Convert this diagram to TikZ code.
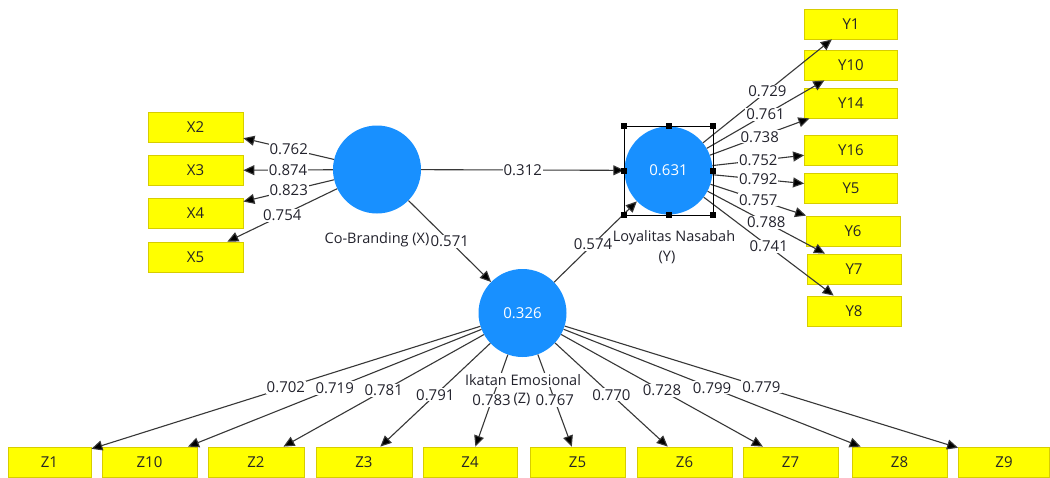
\documentclass[tikz,border=0pt]{standalone}
\usepackage{fontspec}
\setmainfont{Open Sans}
\usetikzlibrary{arrows.meta}
\definecolor{plsblue}{RGB}{24,144,255}
\definecolor{boxyellow}{RGB}{255,255,0}
\definecolor{boxedge}{RGB}{215,205,0}
\definecolor{linegray}{RGB}{55,55,55}
\definecolor{labelgray}{RGB}{35,35,45}
\begin{document}
\begin{tikzpicture}[x=1pt,y=-1pt,
  latent/.style={circle,fill=plsblue,minimum size=88pt,inner sep=0pt,text=white,font=\fontsize{15}{17}\selectfont},
  indicator/.style={rectangle,fill=boxyellow,draw=boxedge,line width=0.8pt,minimum height=30pt,inner sep=0pt,font=\fontsize{15}{17}\selectfont,text=black!85},
  loading/.style={fill=white,inner sep=1pt,text=labelgray,font=\fontsize{15}{17}\selectfont},
  link/.style={draw=linegray,line width=1.1pt,-{Triangle[length=11pt,width=10pt,fill=black]}},
  caption/.style={inner sep=1pt,text=labelgray,font=\fontsize{14.5}{17}\selectfont},
  handle/.style={rectangle,fill=black,minimum size=6pt,inner sep=0pt}
]
\useasboundingbox (0,0) rectangle (1050,477);
\fill[white] (0,0) rectangle (1050,477);

% latent variables
\node[latent] (X) at (377,169.5) {};
\node[latent] (Y) at (668.5,170.5) {0.631};
\node[latent] (Z) at (522.5,313) {0.326};

% captions (below circles)
\node[caption] (Xcap) at (377,240) {Co-Branding (X)};
\node[caption] (Ycap1) at (674,238) {Loyalitas Nasabah};
\node[caption] (Ycap2) at (667,257) {(Y)};

% X indicators
\node[indicator,minimum width=95pt] (X2) at (195.5,127) {X2};
\node[indicator,minimum width=95pt] (X3) at (195.5,170.5) {X3};
\node[indicator,minimum width=95pt] (X4) at (195.5,213) {X4};
\node[indicator,minimum width=95pt] (X5) at (195.5,257) {X5};

% Y indicators
\node[indicator,minimum width=93pt] (Y1) at (851,24) {Y1};
\node[indicator,minimum width=93pt] (Y10) at (851,65) {Y10};
\node[indicator,minimum width=93pt] (Y14) at (851,103) {Y14};
\node[indicator,minimum width=93pt] (Y16) at (851,150) {Y16};
\node[indicator,minimum width=93pt] (Y5) at (851,188) {Y5};
\node[indicator,minimum width=94pt] (Y6) at (853,231) {Y6};
\node[indicator,minimum width=94pt] (Y7) at (854,269) {Y7};
\node[indicator,minimum width=94pt] (Y8) at (854,311) {Y8};

% Z indicators
\node[indicator,minimum width=83pt] (Z1) at (49.5,462) {Z1};
\node[indicator,minimum width=95pt] (Z10) at (149.5,462) {Z10};
\node[indicator,minimum width=96pt] (Z2) at (256,462) {Z2};
\node[indicator,minimum width=96pt] (Z3) at (364,462) {Z3};
\node[indicator,minimum width=94pt] (Z4) at (470,462) {Z4};
\node[indicator,minimum width=95pt] (Z5) at (577.5,462) {Z5};
\node[indicator,minimum width=95pt] (Z6) at (684.5,462) {Z6};
\node[indicator,minimum width=95pt] (Z7) at (790.5,462) {Z7};
\node[indicator,minimum width=95pt] (Z8) at (899.5,462) {Z8};
\node[indicator,minimum width=91pt] (Z9) at (1004,462) {Z9};

% outer loadings X
\draw[link] (X) -- node[loading]{0.762} (X2);
\draw[link] (X) -- node[loading]{0.874} (X3);
\draw[link] (X) -- node[loading]{0.823} (X4);
\draw[link] (X) -- node[loading]{0.754} (X5);

% outer loadings Y
\draw[link] (Y) -- node[loading]{0.729} (Y1);
\draw[link] (Y) -- node[loading]{0.761} (Y10);
\draw[link] (Y) -- node[loading]{0.738} (Y14);
\draw[link] (Y) -- node[loading]{0.752} (Y16);
\draw[link] (Y) -- node[loading]{0.792} (Y5);
\draw[link] (Y) -- node[loading]{0.757} (Y6);
\draw[link] (Y) -- node[loading]{0.788} (Y7);
\draw[link] (Y) -- node[loading]{0.741} (Y8);

% outer loadings Z
\draw[link] (Z) -- node[loading]{0.702} (Z1);
\draw[link] (Z) -- node[loading]{0.719} (Z10);
\draw[link] (Z) -- node[loading]{0.781} (Z2);
\draw[link] (Z) -- node[loading]{0.791} (Z3);
\draw[link] (Z) -- node[loading]{0.783} (Z4);
\draw[link] (Z) -- node[loading]{0.767} (Z5);
\draw[link] (Z) -- node[loading]{0.770} (Z6);
\draw[link] (Z) -- node[loading]{0.728} (Z7);
\draw[link] (Z) -- node[loading]{0.799} (Z8);
\draw[link] (Z) -- node[loading]{0.779} (Z9);

% inner model
\draw[link] (X) -- node[loading]{0.312} (Y);
\draw[link] (X) -- node[loading]{0.571} (Z);
\draw[link] (Z) -- node[loading,pos=0.47]{0.574} (Y);

% Z caption drawn over lines
\node[caption,fill=white] (Zcap1) at (523,380) {Ikatan Emosional};
\node[caption,fill=white] (Zcap2) at (522,399) {(Z)};

% selection frame around Y
\draw[black,line width=0.9pt] (624,126) rectangle (713,215);
\node[handle] (h1) at (624,126) {};
\node[handle] (h2) at (668.5,126) {};
\node[handle] (h3) at (713,126) {};
\node[handle] (h4) at (624,170.5) {};
\node[handle] (h5) at (713,170.5) {};
\node[handle] (h6) at (624,215) {};
\node[handle] (h7) at (668.5,215) {};
\node[handle] (h8) at (713,215) {};
\end{tikzpicture}
\end{document}
